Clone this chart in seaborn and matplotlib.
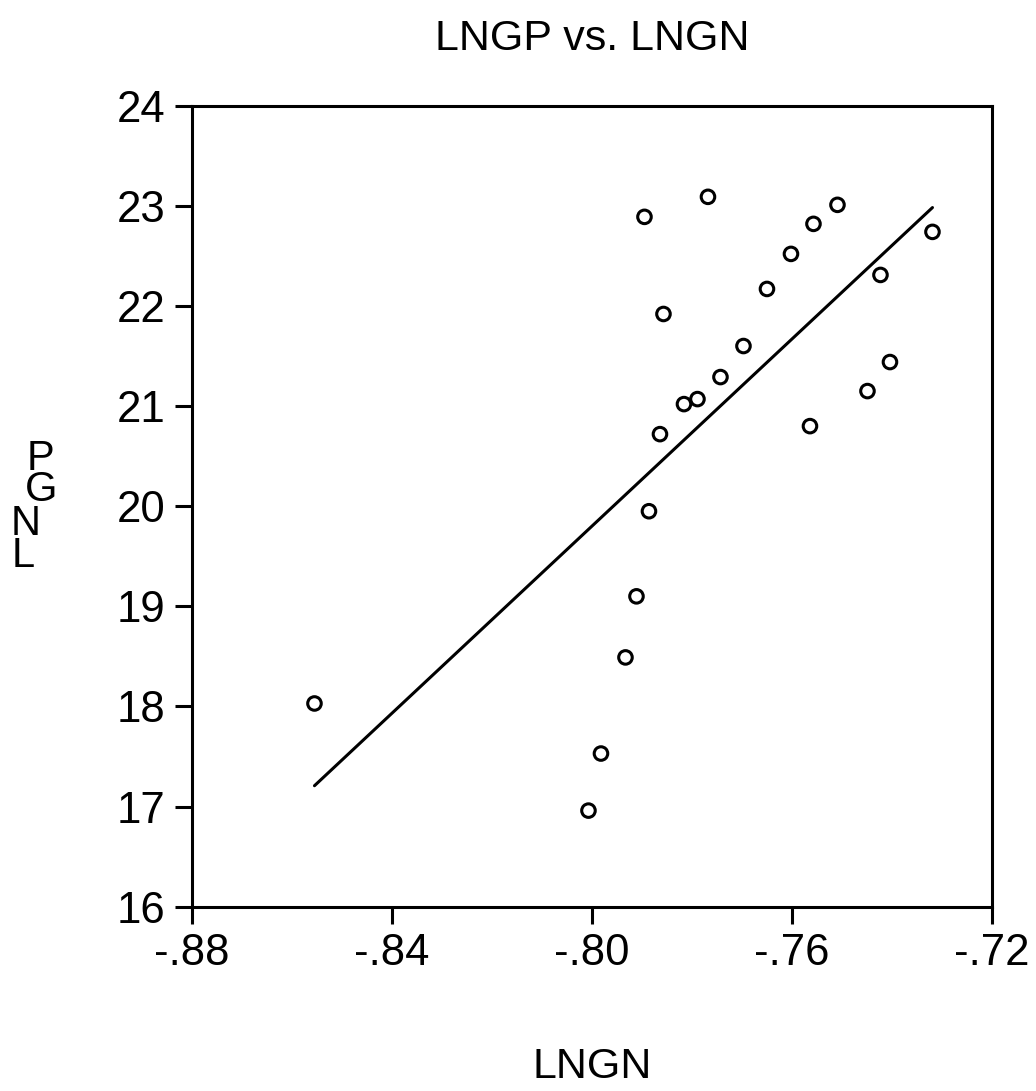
import matplotlib
matplotlib.use("Agg")
import matplotlib.pyplot as plt
import seaborn as sns
import numpy as np
import pandas as pd

# Data
lngn = [-0.8555, -0.8007, -0.7982, -0.7933, -0.7911, -0.7886, -0.7864, -0.7895,
        -0.7857, -0.7816, -0.7789, -0.7743, -0.7768, -0.7697, -0.7650, -0.7602,
        -0.7564, -0.7557, -0.7509, -0.7449, -0.7423, -0.7404, -0.7319]
lngp = [18.03, 16.96, 17.53, 18.49, 19.10, 19.95, 20.72, 22.89,
        21.92, 21.02, 21.07, 21.29, 23.09, 21.60, 22.17, 22.52,
        20.80, 22.82, 23.01, 21.15, 22.31, 21.44, 22.74]
xticks = [-0.88, -0.84, -0.80, -0.76, -0.72]
xtick_labels = ["-.88", "-.84", "-.80", "-.76", "-.72"]
yticks = [16, 17, 18, 19, 20, 21, 22, 23, 24]
ytick_labels = ["16", "17", "18", "19", "20", "21", "22", "23", "24"]
title = "LNGP vs. LNGN"
xlabel = "LNGN"
ylabel = "LNGP"

df = pd.DataFrame({"LNGN": lngn, "LNGP": lngp})

sns.set_theme(style="white")
plt.rcParams["font.family"] = ["Liberation Sans", "DejaVu Sans"]

fig = plt.figure(figsize=(10.36, 10.91), dpi=100)
ax = fig.add_axes([0.1853, 0.1689, 0.7722, 0.7342])

sns.regplot(data=df, x="LNGN", y="LNGP", ax=ax, ci=None,
            scatter_kws=dict(s=95, facecolors="none", edgecolors="black",
                             linewidths=2.2, alpha=1),
            line_kws=dict(color="black", linewidth=2.2))

ax.set_xlim(-0.88, -0.72)
ax.set_ylim(16, 24)
ax.set_xticks(xticks)
ax.set_xticklabels(xtick_labels)
ax.set_yticks(yticks)
ax.set_yticklabels(ytick_labels)
ax.tick_params(axis="both", direction="out", length=12, width=2.2, labelsize=31.5,
               colors="black", pad=7, bottom=True, left=True)
for s in ax.spines.values():
    s.set_visible(True)
    s.set_color("black")
    s.set_linewidth(2.2)

ax.set_xlabel("")
ax.set_ylabel("")
ax.set_title(title, fontsize=31, pad=40, color="black")
fig.text(592 / 1036, 1 - 1067 / 1091, xlabel, ha="center", va="center", fontsize=31, color="black")

# stacked upright letters of the y label, as in the reference
letter_pos = [(23, 567), (25.5, 535), (41.5, 501), (40, 470)]
for ch, (px, py) in zip(ylabel, letter_pos):
    fig.text(px / 1036, 1 - py / 1091, ch, ha="center", va="baseline", fontsize=30, color="black")

fig.savefig("out.png", dpi=100, facecolor="white")
